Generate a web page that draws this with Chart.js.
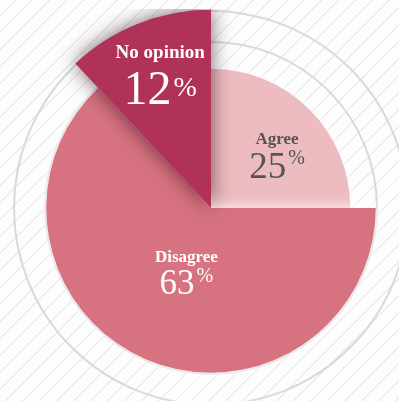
<!DOCTYPE html>
<html>
<head>
<meta charset="utf-8">
<title>Opinion poll</title>
<script src="https://cdn.jsdelivr.net/npm/chart.js@4.4.1/dist/chart.umd.min.js"></script>
<style>
  html, body {
    margin: 0;
    padding: 0;
    width: 399px;
    height: 401px;
    overflow: hidden;
  }
  body {
    position: relative;
    background: repeating-linear-gradient(135deg, #fdfdfd 0px, #fdfdfd 10.6px, #ebebeb 10.6px, #ebebeb 12px);
  }
  #poll {
    position: absolute;
    left: 12px;
    top: 9px;
  }
</style>
</head>
<body>
<canvas id="poll" width="398" height="398"></canvas>
<script>
// answers, share of respondents (%) and slice reach on the radial scale
var answers = ['Agree', 'Disagree', 'No opinion']
var shares = [25, 63, 12]
var reach = [70, 82.8, 99.6]
var rings = [0, 83.4, 99]

var sliceColors = ['#edbcc1', '#d77381', '#b13259']
var textColors = ['#555555', '#ffffff', '#ffffff']
var glowColors = ['rgba(255,255,255,0.9)', 'rgba(255,255,255,1)', 'rgba(40,0,12,0.62)']
var glowBlur = [10, 14, 20]

// label anchor: [fraction of radius, fraction along the arc]
var labelPos = [[0.52, 0.73], [0.545, 0.467], [0.586, 0.40]]
var nameFont = ['bold 17px "Liberation Serif"', 'bold 17px "Liberation Serif"', 'bold 19px "Liberation Serif"']
var numSize = [37, 35, 48]
var pctSize = [20, 20, 28]
var pctRise = [14, 12, 8]

// draw the slices one by one so each gets its own glow or drop shadow
var sliceShadows = {
    id: 'sliceShadows',
    beforeDatasetDraw: function (chart, args) {
        var ctx = chart.ctx
        args.meta.data.forEach(function (arc, i) {
            ctx.save()
            ctx.shadowColor = glowColors[i]
            ctx.shadowBlur = glowBlur[i]
            arc.draw(ctx, chart.chartArea)
            ctx.restore()
        })
        return false
    }
}

var sliceLabels = {
    id: 'sliceLabels',
    afterDatasetsDraw: function (chart) {
        var ctx = chart.ctx
        chart.getDatasetMeta(0).data.forEach(function (arc, i) {
            var p = arc.getProps(['x', 'y', 'startAngle', 'endAngle', 'outerRadius'], true)
            var a = p.startAngle + (p.endAngle - p.startAngle) * labelPos[i][1]
            var r = p.outerRadius * labelPos[i][0]
            var cx = p.x + Math.cos(a) * r
            var base = p.y + Math.sin(a) * r

            ctx.save()
            ctx.fillStyle = textColors[i]
            ctx.textAlign = 'center'
            ctx.textBaseline = 'middle'
            ctx.font = nameFont[i]
            ctx.fillText(answers[i], cx, base - numSize[i] - 2)

            var num = String(shares[i])
            var numFont = numSize[i] + 'px "Liberation Serif"'
            var pctFont = pctSize[i] + 'px "Liberation Serif"'
            ctx.font = numFont
            var wNum = ctx.measureText(num).width
            ctx.font = pctFont
            var wPct = ctx.measureText('%').width
            var left = cx - (wNum + wPct + 2) / 2

            ctx.textAlign = 'left'
            ctx.textBaseline = 'alphabetic'
            ctx.font = numFont
            ctx.fillText(num, left, base)
            ctx.font = pctFont
            ctx.fillText('%', left + wNum + 2, base - pctRise[i])
            ctx.restore()
        })
    }
}

var ctx = document.getElementById('poll').getContext('2d')
var pollChart = new Chart(ctx, {
    type: 'polarArea',
    data: {
        labels: answers,
        datasets: [{
            data: reach,
            backgroundColor: sliceColors,
            borderWidth: 0,
            angle: function (c) { return shares[c.dataIndex] * 3.6 }
        }]
    },
    options: {
        responsive: false,
        animation: false,
        layout: { padding: 0 },
        plugins: {
            legend: { display: false },
            tooltip: { enabled: false }
        },
        scales: {
            r: {
                min: 0,
                max: 100,
                startAngle: 0,
                afterBuildTicks: function (scale) {
                    scale.ticks = rings.map(function (v) { return { value: v } })
                },
                ticks: { display: false },
                pointLabels: { display: false },
                angleLines: { display: false },
                grid: { circular: true, color: '#d9d9d9', lineWidth: 2 }
            }
        }
    },
    plugins: [sliceShadows, sliceLabels]
})
</script>
</body>
</html>
